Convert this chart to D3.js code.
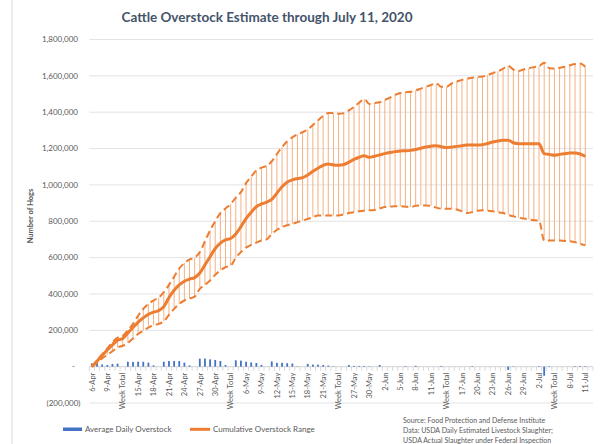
<!DOCTYPE html>
<html>
<head>
<meta charset="utf-8">
<script src="https://cdn.jsdelivr.net/npm/d3@7"></script>
<style>
  body { margin: 0; background: #fff; }
  svg { display: block; font-family: Lato, "Open Sans", sans-serif; }
</style>
</head>
<body>
<div id="chart"></div>
<script>
// categories: days Mon-Sat plus a "Week Total" row after each week
const categories = [
  "6-Apr","7-Apr","8-Apr","9-Apr","10-Apr","11-Apr","Week Total",
  "13-Apr","14-Apr","15-Apr","16-Apr","17-Apr","18-Apr","Week Total",
  "20-Apr","21-Apr","22-Apr","23-Apr","24-Apr","25-Apr","Week Total",
  "27-Apr","28-Apr","29-Apr","30-Apr","1-May","2-May","Week Total",
  "4-May","5-May","6-May","7-May","8-May","9-May","Week Total",
  "11-May","12-May","13-May","14-May","15-May","16-May","Week Total",
  "18-May","19-May","20-May","21-May","22-May","23-May","Week Total",
  "25-May","26-May","27-May","28-May","29-May","30-May","Week Total",
  "1-Jun","2-Jun","3-Jun","4-Jun","5-Jun","6-Jun","Week Total",
  "8-Jun","9-Jun","10-Jun","11-Jun","12-Jun","13-Jun","Week Total",
  "15-Jun","16-Jun","17-Jun","18-Jun","19-Jun","20-Jun","Week Total",
  "22-Jun","23-Jun","24-Jun","25-Jun","26-Jun","27-Jun","Week Total",
  "29-Jun","30-Jun","1-Jul","2-Jul","3-Jul","4-Jul","Week Total",
  "6-Jul","7-Jul","8-Jul","9-Jul","10-Jul","11-Jul","Week Total"
];

// average daily overstock (bars)
const avgDaily = [
  18000, 20000, 12000, 9000, 15000, 17000, null,
  27000, 26000, 27000, 27000, 22000, 7000, null,
  27000, 31000, 31000, 31000, 22000, 7000, null,
  44000, 44000, 40000, 37000, 31000, 9000, null,
  35000, 33000, 27000, 23000, 20000, 10000, null,
  29000, 21000, 21000, 19000, 17000, 2000, null,
  15000, 11000, 11000, 9000, 6000, 2000, null,
  0, 9000, 4000, 4000, 4000, 2000, null,
  9000, 0, 0, 0, 0, 3000, null,
  5000, 0, 0, 0, 0, 4000, null,
  0, 0, 0, 0, 3000, 0, null,
  0, 0, 0, 0, -18000, 2000, null,
  0, 0, 0, 3000, -50000, 3000, null,
  0, 0, 0, 3000, 3000, 3000, null
];

// cumulative overstock: high, estimate, low
const rangeHigh = [
  0, 35000, 68000, 100000, 135000, 160000, 170000,
  200000, 235000, 280000, 318000, 345000, 364000, 380000,
  410000, 450000, 495000, 540000, 570000, 590000, 600000,
  630000, 690000, 750000, 800000, 845000, 870000, 895000,
  930000, 960000, 1010000, 1045000, 1080000, 1095000, 1105000,
  1130000, 1170000, 1208000, 1240000, 1262000, 1278000, 1290000,
  1305000, 1330000, 1355000, 1380000, 1395000, 1395000, 1392000,
  1395000, 1410000, 1430000, 1452000, 1472000, 1445000, 1450000,
  1455000, 1468000, 1480000, 1495000, 1506000, 1510000, 1512000,
  1520000, 1530000, 1540000, 1550000, 1558000, 1540000, 1540000,
  1558000, 1568000, 1578000, 1585000, 1590000, 1594000, 1596000,
  1605000, 1615000, 1625000, 1640000, 1655000, 1635000, 1627000,
  1635000, 1642000, 1648000, 1653000, 1672000, 1642000, 1640000,
  1645000, 1650000, 1658000, 1665000, 1668000, 1650000, null
];
const rangeMid = [
  0, 30000, 62000, 92000, 120000, 145000, 155000,
  185000, 215000, 245000, 268000, 288000, 300000, 308000,
  330000, 380000, 420000, 450000, 470000, 482000, 490000,
  515000, 560000, 605000, 650000, 680000, 698000, 705000,
  730000, 770000, 815000, 850000, 880000, 895000, 905000,
  920000, 955000, 990000, 1015000, 1028000, 1035000, 1040000,
  1055000, 1075000, 1092000, 1108000, 1115000, 1110000, 1108000,
  1112000, 1125000, 1140000, 1152000, 1160000, 1152000, 1158000,
  1165000, 1172000, 1178000, 1183000, 1187000, 1188000, 1190000,
  1195000, 1202000, 1208000, 1213000, 1216000, 1210000, 1205000,
  1208000, 1212000, 1216000, 1219000, 1220000, 1220000, 1221000,
  1228000, 1236000, 1242000, 1246000, 1246000, 1232000, 1227000,
  1227000, 1227000, 1227000, 1226000, 1172000, 1168000, 1163000,
  1168000, 1172000, 1175000, 1175000, 1170000, 1157000, null
];
const rangeLow = [
  0, 20000, 45000, 65000, 85000, 105000, 115000,
  130000, 155000, 180000, 198000, 215000, 228000, 235000,
  250000, 285000, 318000, 345000, 364000, 375000, 385000,
  428000, 450000, 474000, 505000, 530000, 547000, 555000,
  600000, 630000, 655000, 670000, 682000, 694000, 700000,
  730000, 752000, 768000, 778000, 786000, 795000, 804000,
  812000, 822000, 832000, 832000, 832000, 832000, 832000,
  838000, 845000, 850000, 855000, 858000, 860000, 862000,
  870000, 878000, 880000, 882000, 882000, 880000, 878000,
  885000, 887000, 887000, 885000, 875000, 869000, 869000,
  869000, 865000, 855000, 845000, 850000, 858000, 860000,
  858000, 855000, 850000, 845000, 835000, 827000, 820000,
  815000, 810000, 806000, 804000, 694000, 694000, 694000,
  694000, 692000, 690000, 685000, 675000, 667000, null
];

const yTicks = [-200000, 0, 200000, 400000, 600000, 800000, 1000000,
                1200000, 1400000, 1600000, 1800000];

const ORANGE = "#ED7D31";
const BLUE = "#4472C4";
const GREY = "#595959";

const width = 600, height = 444;
const plot = {left: 89.3, right: 593, top: 39.5, bottom: 403};

const svg = d3.select("#chart").append("svg")
  .attr("width", width)
  .attr("height", height);

// chart border on the left side
svg.append("line")
  .attr("x1", 12).attr("x2", 12).attr("y1", 0).attr("y2", height)
  .attr("stroke", "#D9D9D9");

const x = d3.scaleBand()
  .domain(d3.range(categories.length))
  .range([plot.left, plot.right]);

const y = d3.scaleLinear()
  .domain([-200000, 1800000])
  .range([plot.bottom, plot.top]);

const cx = i => x(i) + x.bandwidth() / 2;

// title
svg.append("text")
  .attr("x", 267).attr("y", 22)
  .attr("text-anchor", "middle")
  .attr("font-size", "13.5px")
  .attr("font-weight", "bold")
  .attr("fill", "#44546A")
  .text("Cattle Overstock Estimate through July 11, 2020");

// gridlines
svg.append("g")
  .selectAll("line")
  .data(yTicks)
  .join("line")
    .attr("x1", plot.left).attr("x2", plot.right)
    .attr("y1", d => y(d)).attr("y2", d => y(d))
    .attr("stroke", "#E3E3E8")
    .attr("stroke-width", 1);

// y labels, accounting style: "-" for zero, brackets for negatives
const fmt = d3.format(",");
svg.append("g")
  .selectAll("text")
  .data(yTicks)
  .join("text")
    .attr("x", d => d < 0 ? 80.5 : (d === 0 ? 75 : 78))
    .attr("y", d => y(d))
    .attr("dy", "0.35em")
    .attr("text-anchor", "end")
    .attr("font-size", "8px")
    .attr("fill", GREY)
    .text(d => d < 0 ? "(" + fmt(-d) + ")" : (d === 0 ? "-" : fmt(d)));

// y axis title
svg.append("text")
  .attr("transform", "translate(33,216) rotate(-90)")
  .attr("text-anchor", "middle")
  .attr("font-size", "7.5px")
  .attr("font-weight", "bold")
  .attr("fill", GREY)
  .text("Number of Hogs");

// axis at zero with small ticks between categories
const y0 = y(0);
svg.append("line")
  .attr("x1", plot.left).attr("x2", plot.right)
  .attr("y1", y0).attr("y2", y0)
  .attr("stroke", "#D9D9D9");
svg.append("g")
  .selectAll("line")
  .data(d3.range(categories.length + 1))
  .join("line")
    .attr("x1", i => plot.left + i * x.step())
    .attr("x2", i => plot.left + i * x.step())
    .attr("y1", y0).attr("y2", y0 + 4)
    .attr("stroke", "#D9D9D9");

// x labels: every third category, rotated
svg.append("g")
  .selectAll("text")
  .data(d3.range(0, categories.length, 3))
  .join("text")
    .attr("transform", i => `translate(${cx(i) + 2.7},${y0 + 6}) rotate(-90)`)
    .attr("text-anchor", "end")
    .attr("font-size", "7.5px")
    .attr("fill", GREY)
    .text(i => categories[i]);

// bars
const barW = 1.8;
svg.append("g")
  .selectAll("rect")
  .data(avgDaily.map((v, i) => ({i, v})).filter(d => d.v !== null && d.v !== 0))
  .join("rect")
    .attr("x", d => cx(d.i) - barW / 2)
    .attr("width", barW)
    .attr("y", d => y(Math.max(0, d.v)))
    .attr("height", d => Math.abs(y(d.v) - y0))
    .attr("fill", BLUE);

// high-low lines
const hl = d3.range(categories.length).filter(i => rangeHigh[i] !== null && rangeLow[i] !== null);
svg.append("g")
  .selectAll("line")
  .data(hl)
  .join("line")
    .attr("x1", cx).attr("x2", cx)
    .attr("y1", i => y(rangeLow[i]))
    .attr("y2", i => y(rangeHigh[i]))
    .attr("stroke", "#F4B183")
    .attr("stroke-width", 1);

const line = arr => d3.line()
  .defined(i => arr[i] !== null)
  .x(cx)
  .y(i => y(arr[i]))
  .curve(d3.curveMonotoneX);

const idx = d3.range(categories.length);

// dashed range bounds
[rangeHigh, rangeLow].forEach(arr => {
  svg.append("path")
    .datum(idx)
    .attr("d", line(arr))
    .attr("fill", "none")
    .attr("stroke", ORANGE)
    .attr("stroke-width", 2)
    .attr("stroke-dasharray", "7,4");
});

// estimate
svg.append("path")
  .datum(idx)
  .attr("d", line(rangeMid))
  .attr("fill", "none")
  .attr("stroke", ORANGE)
  .attr("stroke-width", 3)
  .attr("stroke-linejoin", "round");

// legend
const lg = svg.append("g").attr("font-size", "8px").attr("fill", GREY);
lg.append("rect")
  .attr("x", 63).attr("y", 427.5).attr("width", 19).attr("height", 3.5)
  .attr("fill", BLUE);
lg.append("text").attr("x", 85).attr("y", 432).text("Average Daily Overstock");
lg.append("line")
  .attr("x1", 190).attr("x2", 210).attr("y1", 429.3).attr("y2", 429.3)
  .attr("stroke", ORANGE).attr("stroke-width", 3);
lg.append("text").attr("x", 213).attr("y", 432).text("Cumulative Overstock Range");

// source note
const notes = [
  "Source: Food Protection and Defense Institute",
  "Data: USDA Daily Estimated Livestock Slaughter;",
  "USDA Actual Slaughter under Federal Inspection"
];
svg.append("g")
  .selectAll("text")
  .data(notes)
  .join("text")
    .attr("x", 403)
    .attr("y", (d, i) => 422.5 + i * 10)
    .attr("font-size", "7px")
    .attr("fill", GREY)
    .text(d => d);
</script>
</body>
</html>
